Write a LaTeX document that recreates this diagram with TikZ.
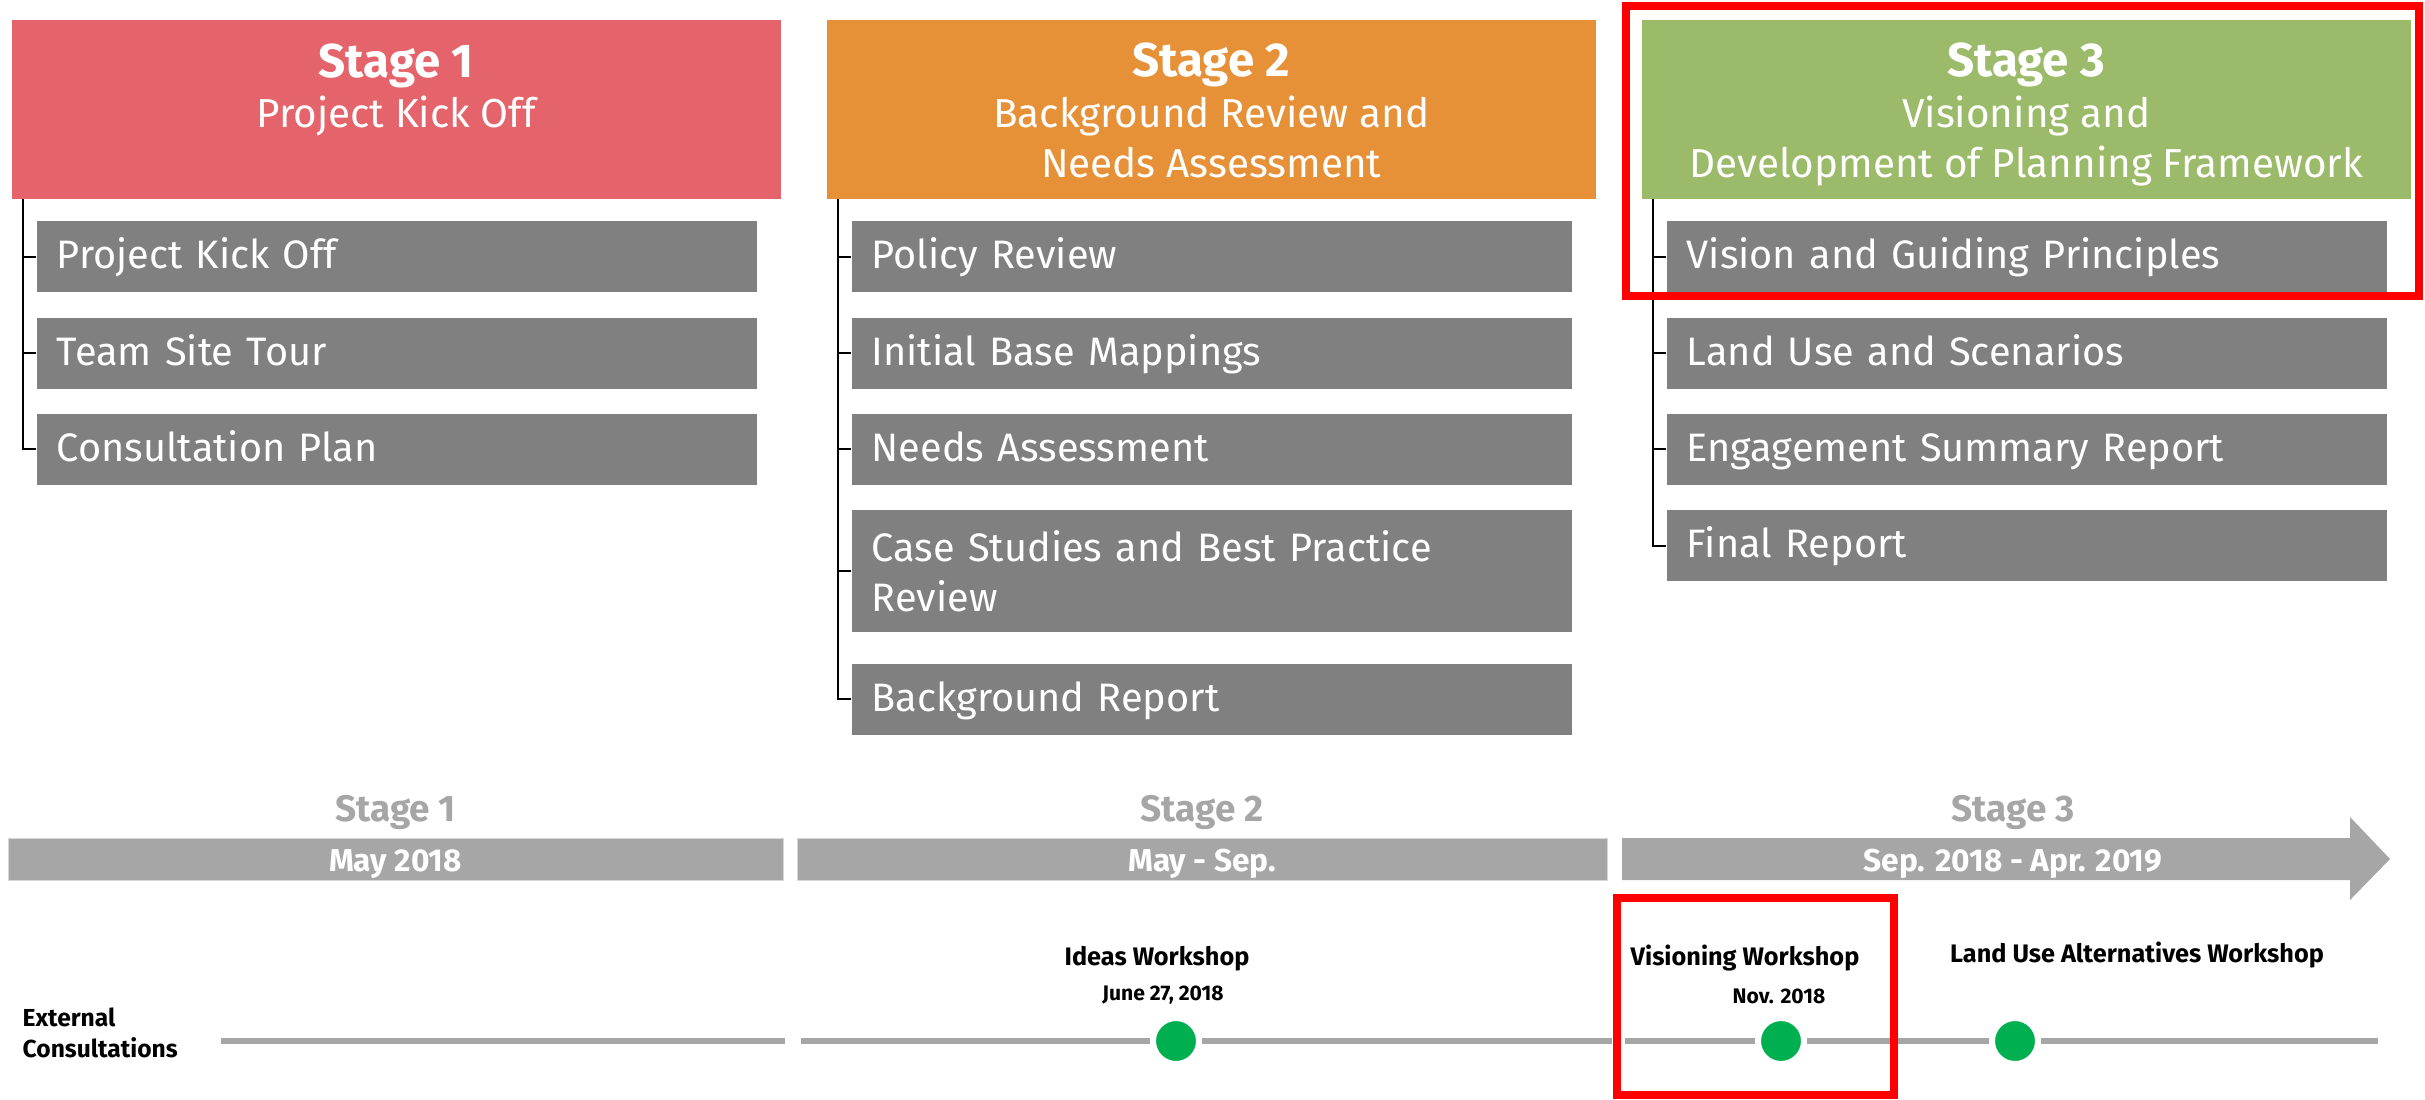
\documentclass[tikz,border=0pt]{standalone}
\usepackage{fontspec}
\setmainfont{Fira Sans}
\usepackage{xcolor}
\definecolor{stageone}{RGB}{229,99,106}
\definecolor{stagetwo}{RGB}{230,145,56}
\definecolor{stagethree}{RGB}{155,187,106}
\definecolor{taskgray}{RGB}{128,128,128}
\definecolor{bargray}{RGB}{166,166,166}
\definecolor{baredge}{RGB}{214,214,214}
\definecolor{dotgreen}{RGB}{0,176,80}
\definecolor{hired}{RGB}{255,0,0}
\usepackage{tikz}
\usetikzlibrary{positioning}

\tikzset{
  stagehead/.style={rectangle, minimum width=7.69cm, minimum height=1.79cm,
    anchor=north west, inner sep=0pt},
  headtext/.style={anchor=base, align=center, text=white, inner sep=0pt,
    font=\fontsize{11.5}{14.4}\selectfont},
  task/.style={rectangle, fill=taskgray, text=white, minimum width=7.2cm,
    minimum height=0.71cm, text width=6.8cm, inner xsep=0.2cm, inner ysep=0pt,
    align=left, text height=0.69em, text depth=0pt,
    font=\fontsize{11.3}{14.4}\selectfont},
  tree/.style={draw=black, line width=0.02cm},
  barbox/.style={rectangle, fill=bargray, draw=baredge, line width=0.01cm,
    minimum height=0.42cm, inner sep=0pt, text=white, text height=0.69em,
    text depth=0pt, font=\bfseries\fontsize{9}{10}\selectfont},
  barlabel/.style={inner sep=0pt, text=bargray,
    font=\bfseries\fontsize{10.5}{12}\selectfont},
  track/.style={draw=bargray, line width=0.06cm},
  milestone/.style={circle, fill=dotgreen, draw=white, line width=0.06cm,
    minimum size=0.46cm, inner sep=0pt},
  eventname/.style={anchor=base, inner sep=0pt,
    font=\bfseries\fontsize{7.2}{8.8}\selectfont},
  eventdate/.style={anchor=base, inner sep=0pt,
    font=\bfseries\fontsize{6}{7}\selectfont},
  hilite/.style={draw=hired, line width=0.08cm},
  node distance=0.24cm
}

\begin{document}
\begin{tikzpicture}
  \useasboundingbox (0,0) rectangle (24.25,-11.0);

  % stage headers
  \node[stagehead, fill=stageone] (h1) at (0.11,-0.19) {};
  \node[stagehead, fill=stagetwo] (h2) at (8.26,-0.19) {};
  \node[stagehead, fill=stagethree] (h3) at (16.41,-0.19) {};
  \node[headtext] (s1) at ([yshift=-1.09cm]h1.north)
    {{\bfseries\fontsize{13.5}{14.4}\selectfont Stage 1}\\Project Kick Off};
  \node[headtext] (s2) at ([yshift=-1.59cm]h2.north)
    {{\bfseries\fontsize{13.5}{14.4}\selectfont Stage 2}\\Background Review and\\Needs Assessment};
  \node[headtext] (s3) at ([yshift=-1.59cm]h3.north)
    {{\bfseries\fontsize{13.5}{14.4}\selectfont Stage 3}\\Visioning and\\Development of Planning Framework};

  % tasks
  \node[task, anchor=north west] (a11) at ([xshift=0.25cm,yshift=-0.21cm]h1.south west) {Project Kick Off};
  \node[task, below=of a11] (a12) {Team Site Tour};
  \node[task, below=of a12] (a13) {Consultation Plan};

  \node[task, anchor=north west] (a21) at ([xshift=0.25cm,yshift=-0.21cm]h2.south west) {Policy Review};
  \node[task, below=of a21] (a22) {Initial Base Mappings};
  \node[task, below=of a22] (a23) {Needs Assessment};
  \node[task, below=of a23, minimum height=1.22cm, text height=, text depth=] (a24)
    {Case Studies and Best Practice\\Review};
  \node[task, below=0.30cm of a24] (a25) {Background Report};

  \node[task, anchor=north west] (a31) at ([xshift=0.25cm,yshift=-0.21cm]h3.south west) {Vision and Guiding Principles};
  \node[task, below=of a31] (a32) {Land Use and Scenarios};
  \node[task, below=of a32] (a33) {Engagement Summary Report};
  \node[task, below=of a33] (a34) {Final Report};

  \draw[tree] ([xshift=0.12cm]h1.south west) |- (a11.west)
    ([xshift=0.12cm]h1.south west) |- (a12.west)
    ([xshift=0.12cm]h1.south west) |- (a13.west);
  \draw[tree] ([xshift=0.12cm]h2.south west) |- (a21.west)
    ([xshift=0.12cm]h2.south west) |- (a22.west)
    ([xshift=0.12cm]h2.south west) |- (a23.west)
    ([xshift=0.12cm]h2.south west) |- (a24.west)
    ([xshift=0.12cm]h2.south west) |- (a25.west);
  \draw[tree] ([xshift=0.12cm]h3.south west) |- (a31.west)
    ([xshift=0.12cm]h3.south west) |- (a32.west)
    ([xshift=0.12cm]h3.south west) |- (a33.west)
    ([xshift=0.12cm]h3.south west) |- (a34.west);

  % timeline bars
  \node[barbox, minimum width=7.75cm] (b1) at (3.955,-8.59) {May 2018};
  \node[barbox, minimum width=8.10cm] (b2) at (12.02,-8.59) {May - Sep.};
  \fill[bargray] (16.22,-8.38) -- (23.50,-8.38) -- (23.50,-8.17) -- (23.90,-8.59)
    -- (23.50,-9.00) -- (23.50,-8.80) -- (16.22,-8.80) -- cycle;
  \node[barbox, fill=none, draw=none, minimum width=3cm] (b3) at (20.13,-8.59) {Sep. 2018 - Apr. 2019};
  \node[barlabel, above=0.07cm of b1] (l1) {Stage 1};
  \node[barlabel, above=0.07cm of b2] (l2) {Stage 2};
  \node[barlabel, above=0.07cm of b3] (l3) {Stage 3};

  % external consultations
  \node[anchor=base west, align=left, inner sep=0pt,
    font=\bfseries\fontsize{7}{8.8}\selectfont] (ext) at (0.22,-10.57) {External\\Consultations};
  \coordinate (t1s) at (2.21,-10.41);
  \coordinate (t1e) at (7.85,-10.41);
  \coordinate (t2s) at (8.01,-10.41);
  \coordinate (t2e) at (16.12,-10.41);
  \coordinate (t3s) at (16.25,-10.41);
  \coordinate (t3e) at (23.78,-10.41);
  \draw[track] (t1s) -- (t1e) (t2s) -- (t2e) (t3s) -- (t3e);
  \node[milestone] (d1) at (11.76,-10.41) {};
  \node[milestone] (d2) at (17.81,-10.41) {};
  \node[milestone] (d3) at (20.15,-10.41) {};
  \node[eventname] (w1) at (11.57,-9.65) {Ideas Workshop};
  \node[eventdate] (w1d) at (11.63,-10.00) {June 27, 2018};
  \node[eventname] (w2) at (17.45,-9.65) {Visioning Workshop};
  \node[eventdate] (w2d) at (17.79,-10.03) {Nov. 2018};
  \node[eventname] (w3) at (21.37,-9.62) {Land Use Alternatives Workshop};

  % highlights
  \draw[hilite] (16.26,-0.06) rectangle (24.19,-2.96);
  \draw[hilite] (16.17,-8.98) rectangle (18.94,-10.95);
\end{tikzpicture}
\end{document}
